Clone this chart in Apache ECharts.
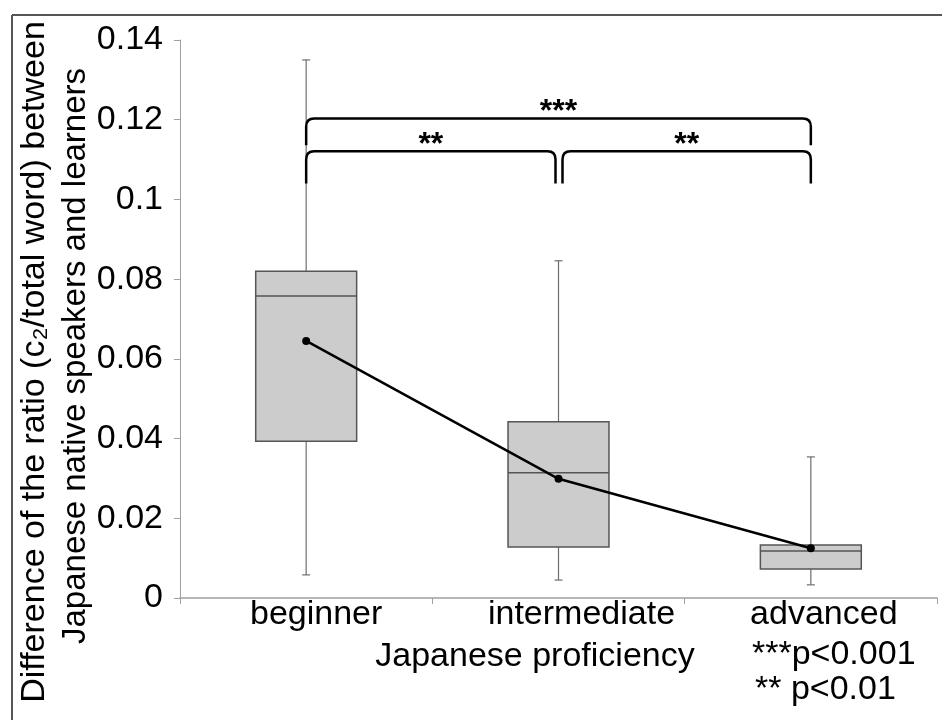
<!DOCTYPE html>
<html>
<head>
<meta charset="utf-8">
<script src="https://cdn.jsdelivr.net/npm/echarts@6/dist/echarts.min.js"></script>
<style>
html,body{margin:0;padding:0;background:#fff;}
#chart{width:942px;height:720px;}
</style>
</head>
<body>
<div id="chart"></div>
<script>
// ---- data ----
var categories = ['beginner', 'intermediate', 'advanced'];
var minValues    = [0.0058, 0.0045, 0.0033];
var q1Values     = [0.0393, 0.0128, 0.0073];
var medianValues = [0.0758, 0.0314, 0.0118];
var q3Values     = [0.0820, 0.0442, 0.0133];
var maxValues    = [0.1350, 0.0846, 0.0354];
var meanValues   = [0.0645, 0.0299, 0.0125];
var yTicks = [0, 0.02, 0.04, 0.06, 0.08, 0.1, 0.12, 0.14];

// significance brackets (from category, to category, top value, end value, label)
var bracketFrom   = [0, 0, 1];
var bracketTo     = [2, 1, 2];
var bracketTop    = [0.1203, 0.1121, 0.1121];
var bracketEnd    = [0.1136, 0.1040, 0.1040];
var bracketLabels = ['***', '**', '**'];

var yTitle1 = 'Difference of the ratio (c\u2082/total word) between';
var yTitle2 = 'Japanese native speakers and learners';
var xTitle = 'Japanese proficiency';
var note1 = '***p<0.001';
var note2 = '** p<0.01';

var FONT = "'Liberation Sans', Arial, sans-serif";
var labelStyleKeys = ['c0', 'c1', 'c2'];

var boxData = categories.map(function (c, i) {
  return [i, minValues[i], q1Values[i], medianValues[i], q3Values[i], maxValues[i]];
});
var bracketData = bracketFrom.map(function (f, i) {
  return [f, bracketTo[i], bracketTop[i], bracketEnd[i], bracketLabels[i]];
});

var chart = echarts.init(document.getElementById('chart'), null, {renderer: 'canvas'});

function renderBox(params, api) {
  var idx = api.value(0);
  var pMin = api.coord([idx, api.value(1)]);
  var pQ1 = api.coord([idx, api.value(2)]);
  var pMed = api.coord([idx, api.value(3)]);
  var pQ3 = api.coord([idx, api.value(4)]);
  var pMax = api.coord([idx, api.value(5)]);
  var cx = pMed[0];
  var w = api.size([1, 0])[0] * 0.4;
  var cap = 4;
  var wStyle = {stroke: '#6e6e6e', lineWidth: 1.2};
  return {
    type: 'group',
    children: [
      {type: 'line', shape: {x1: cx, y1: pQ3[1], x2: cx, y2: pMax[1]}, style: wStyle},
      {type: 'line', shape: {x1: cx - cap, y1: pMax[1], x2: cx + cap, y2: pMax[1]}, style: wStyle},
      {type: 'line', shape: {x1: cx, y1: pQ1[1], x2: cx, y2: pMin[1]}, style: wStyle},
      {type: 'line', shape: {x1: cx - cap, y1: pMin[1], x2: cx + cap, y2: pMin[1]}, style: wStyle},
      {type: 'rect', shape: {x: cx - w / 2, y: pQ3[1], width: w, height: pQ1[1] - pQ3[1]},
        style: {fill: '#cccccc', stroke: '#555555', lineWidth: 1.5}},
      {type: 'line', shape: {x1: cx - w / 2, y1: pMed[1], x2: cx + w / 2, y2: pMed[1]},
        style: {stroke: '#555555', lineWidth: 1.5}}
    ]
  };
}

function renderBracket(params, api) {
  var a = api.value(0), b = api.value(1);
  var pA = api.coord([a, api.value(2)]);
  var pB = api.coord([b, api.value(2)]);
  var pEnd = api.coord([a, api.value(3)]);
  var x1 = pA[0], x2 = pB[0], yt = pA[1], ye = pEnd[1];
  // small gap where two brackets meet at the same category
  if (a === 1) x1 += 4;
  if (b === 1) x2 -= 3;
  var r = 8;
  var path = 'M' + x1 + ' ' + ye +
    ' L' + x1 + ' ' + (yt + r) +
    ' Q' + x1 + ' ' + yt + ' ' + (x1 + r) + ' ' + yt +
    ' L' + (x2 - r) + ' ' + yt +
    ' Q' + x2 + ' ' + yt + ' ' + x2 + ' ' + (yt + r) +
    ' L' + x2 + ' ' + ye;
  return {
    type: 'group',
    children: [
      {type: 'path', shape: {pathData: path}, style: {stroke: '#000', fill: null, lineWidth: 2.5}},
      {type: 'text', x: (x1 + x2) / 2, y: yt - 6,
        style: {text: api.value(4), fill: '#000', font: 'bold 32px ' + FONT, align: 'center', verticalAlign: 'middle'}}
    ]
  };
}

var option = {
  backgroundColor: '#ffffff',
  animation: false,
  grid: {left: 180, right: 5, top: 40, bottom: 122, containLabel: false},
  xAxis: {
    type: 'category',
    data: categories,
    boundaryGap: true,
    axisLine: {lineStyle: {color: '#a0a0a0', width: 1.5}},
    axisTick: {show: true, length: 6, alignWithLabel: false, lineStyle: {color: '#a0a0a0'}},
    axisLabel: {
      fontSize: 34, fontFamily: FONT, color: '#000', margin: 0, interval: 0,
      formatter: function (v, i) { return '{' + labelStyleKeys[i] + '|' + v + '}'; },
      rich: {
        c0: {fontSize: 34, fontFamily: FONT, color: '#000', padding: [0, 0, 0, 20]},
        c1: {fontSize: 34, fontFamily: FONT, color: '#000', padding: [0, 0, 0, 46]},
        c2: {fontSize: 34, fontFamily: FONT, color: '#000', padding: [0, 0, 0, 26]}
      }
    }
  },
  yAxis: {
    type: 'value',
    min: 0, max: 0.14, interval: 0.02,
    axisLine: {show: true, lineStyle: {color: '#a0a0a0', width: 1}},
    axisTick: {show: true, length: 6, lineStyle: {color: '#a0a0a0'}},
    splitLine: {show: false},
    axisLabel: {fontSize: 34, fontFamily: FONT, color: '#000', margin: 17, padding: [8, 0, 0, 0],
      formatter: function (v) {
        var t = yTicks.filter(function (k) { return Math.abs(k - v) < 1e-9; });
        return t.length ? String(t[0]) : '';
      }}
  },
  series: [
    {
      type: 'custom',
      renderItem: renderBox,
      data: boxData,
      encode: {x: 0, y: [1, 2, 3, 4, 5]},
      z: 2
    },
    {
      type: 'line',
      data: meanValues,
      symbol: 'circle',
      symbolSize: 8,
      lineStyle: {color: '#000', width: 2.5},
      itemStyle: {color: '#000'},
      z: 5
    },
    {
      type: 'custom',
      renderItem: renderBracket,
      data: bracketData,
      encode: {x: [0, 1], y: [2, 3]},
      clip: false,
      z: 6
    }
  ],
  graphic: [
    {type: 'line', shape: {x1: 12, y1: 15, x2: 942, y2: 15}, style: {stroke: '#555', lineWidth: 2}},
    {type: 'line', shape: {x1: 12, y1: 15, x2: 12, y2: 720}, style: {stroke: '#555', lineWidth: 2}},
    {type: 'text', x: 35, y: 362, rotation: Math.PI / 2,
      style: {text: yTitle1, font: '34px ' + FONT, fill: '#000', align: 'center', verticalAlign: 'middle'}},
    {type: 'text', x: 76, y: 356, rotation: Math.PI / 2,
      style: {text: yTitle2, font: '33px ' + FONT, fill: '#000', align: 'center', verticalAlign: 'middle'}},
    {type: 'text', x: 535, y: 657,
      style: {text: xTitle, font: '34px ' + FONT, fill: '#000', align: 'center', verticalAlign: 'middle'}},
    {type: 'text', x: 752, y: 655,
      style: {text: note1, font: '34px ' + FONT, fill: '#000', align: 'left', verticalAlign: 'middle'}},
    {type: 'text', x: 755, y: 690,
      style: {text: note2, font: '34px ' + FONT, fill: '#000', align: 'left', verticalAlign: 'middle'}}
  ]
};
chart.setOption(option);
</script>
</body>
</html>
